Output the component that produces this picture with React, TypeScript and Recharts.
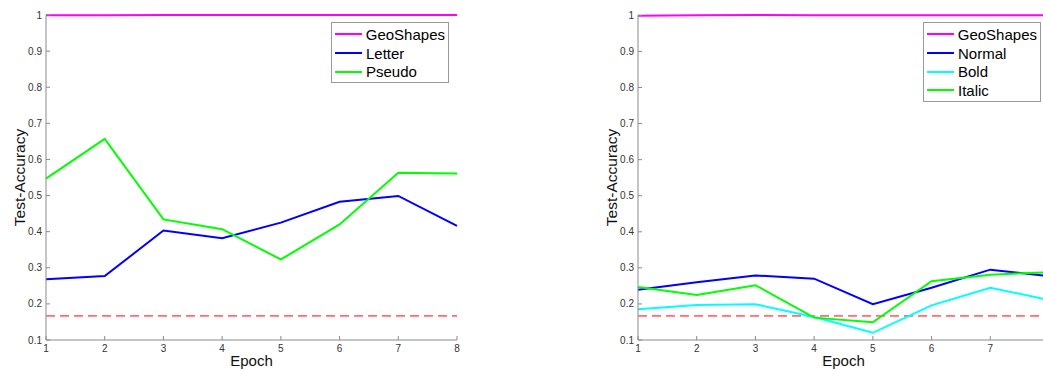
import { LineChart, Line, XAxis, YAxis, ReferenceLine, Legend } from 'recharts';

const epochs = [1, 2, 3, 4, 5, 6, 7, 8];
const yTicks = [0.1, 0.2, 0.3, 0.4, 0.5, 0.6, 0.7, 0.8, 0.9, 1];
const chance = 1 / 6;

// left panel: scripts
const leftGeo = [0.999, 0.999, 1, 1, 1, 1, 1, 1];
const leftLetter = [0.268, 0.277, 0.403, 0.382, 0.425, 0.483, 0.499, 0.416];
const leftPseudo = [0.547, 0.657, 0.434, 0.407, 0.323, 0.42, 0.563, 0.561];

// right panel: font styles (the epoch 8 label falls outside the picture)
const rightGeo = [0.999, 1, 1.001, 1, 1, 1, 1, 1];
const rightNormal = [0.239, 0.26, 0.279, 0.27, 0.199, 0.245, 0.295, 0.277];
const rightBold = [0.185, 0.197, 0.199, 0.164, 0.12, 0.196, 0.245, 0.211];
const rightItalic = [0.247, 0.225, 0.252, 0.162, 0.149, 0.263, 0.281, 0.288];
const rightTickLabels = [1, 2, 3, 4, 5, 6, 7];

const leftData = epochs.map((e, i) => ({
  epoch: e,
  GeoShapes: leftGeo[i],
  Letter: leftLetter[i],
  Pseudo: leftPseudo[i],
}));

const rightData = epochs.map((e, i) => ({
  epoch: e,
  GeoShapes: rightGeo[i],
  Normal: rightNormal[i],
  Bold: rightBold[i],
  Italic: rightItalic[i],
}));

const FONT = '"Liberation Sans", Arial, Helvetica, sans-serif';
const AXIS = '#8a8a8a';
const TICK_TEXT = { fontSize: 10, fill: '#333' };

const fmt = (v: number) => String(Math.round(v * 10) / 10);

type Series = { key: string; color: string };

const LegendBox = ({ series }: { series: Series[] }) => (
  <div
    style={{
      border: '1px solid #9a9a9a',
      background: '#fff',
      padding: '2px 3px 1px 3px',
      fontFamily: FONT,
      fontSize: 15,
      color: '#000',
      boxSizing: 'border-box',
      width: 118,
    }}
  >
    {series.map((s) => (
      <div key={s.key} style={{ display: 'flex', alignItems: 'center', height: 18.7 }}>
        <span style={{ width: 27, height: 0, borderTop: `2px solid ${s.color}`, marginRight: 4 }} />
        <span>{s.key}</span>
      </div>
    ))}
  </div>
);

const YLabel = ({ viewBox }: any) => {
  const cx = viewBox.x + 19;
  const cy = viewBox.y + viewBox.height / 2;
  return (
    <text
      x={cx}
      y={cy}
      transform={`rotate(-90, ${cx}, ${cy})`}
      textAnchor="middle"
      dominantBaseline="central"
      fontSize={15.5}
      fill="#111"
    >
      Test-Accuracy
    </text>
  );
};

const XLabel = ({ viewBox }: any) => (
  <text
    x={viewBox.x + viewBox.width / 2}
    y={viewBox.y + viewBox.height - 4}
    textAnchor="middle"
    fontSize={15}
    fill="#111"
  >
    Epoch
  </text>
);

const Panel = ({
  data,
  series,
  tickLabels,
}: {
  data: any[];
  series: Series[];
  tickLabels: number[];
}) => (
  <LineChart
    width={470}
    height={370}
    data={data}
    margin={{ top: 15, right: 13, left: 0, bottom: 0 }}
    style={{ fontFamily: FONT }}
  >
    <XAxis
      dataKey="epoch"
      type="number"
      domain={[1, 8]}
      ticks={tickLabels}
      interval={0}
      height={30}
      stroke={AXIS}
      tickSize={-4}
      tickMargin={9}
      tick={TICK_TEXT}
      label={<XLabel />}
    />
    <XAxis
      xAxisId="top"
      orientation="top"
      dataKey="epoch"
      type="number"
      domain={[1, 8]}
      ticks={epochs}
      interval={0}
      height={0}
      stroke={AXIS}
      tickSize={-4}
      tick={false}
    />
    <YAxis
      type="number"
      domain={[0.1, 1]}
      ticks={yTicks}
      interval={0}
      width={46}
      stroke={AXIS}
      tickSize={-4}
      tickMargin={8}
      tick={TICK_TEXT}
      tickFormatter={fmt}
      label={<YLabel />}
    />
    <YAxis
      yAxisId="r"
      orientation="right"
      type="number"
      domain={[0.1, 1]}
      ticks={yTicks}
      interval={0}
      width={0}
      stroke={AXIS}
      tickSize={-4}
      tick={false}
    />
    <ReferenceLine y={chance} stroke="#ff0000" strokeWidth={1} strokeDasharray="9 5" />
    {series.map((s) => (
      <Line
        key={s.key}
        type="linear"
        dataKey={s.key}
        stroke={s.color}
        strokeWidth={2}
        dot={false}
        activeDot={false}
        isAnimationActive={false}
      />
    ))}
    <Legend
      layout="vertical"
      align="center"
      verticalAlign="middle"
      content={<LegendBox series={series} />}
      wrapperStyle={{ left: 331, top: 22, width: 118 }}
    />
  </LineChart>
);

const leftSeries: Series[] = [
  { key: 'GeoShapes', color: '#ff00ff' },
  { key: 'Letter', color: '#0000ff' },
  { key: 'Pseudo', color: '#00ff00' },
];

const rightSeries: Series[] = [
  { key: 'GeoShapes', color: '#ff00ff' },
  { key: 'Normal', color: '#0000ff' },
  { key: 'Bold', color: '#00ffff' },
  { key: 'Italic', color: '#00ff00' },
];

export default function App() {
  return (
    <div
      style={{
        position: 'absolute',
        left: 0,
        top: 0,
        width: 1043,
        height: 370,
        overflow: 'hidden',
        background: '#fff',
      }}
    >
      <div style={{ position: 'absolute', left: 0, top: 0 }}>
        <Panel data={leftData} series={leftSeries} tickLabels={epochs} />
      </div>
      <div style={{ position: 'absolute', left: 592, top: 0 }}>
        <Panel data={rightData} series={rightSeries} tickLabels={rightTickLabels} />
      </div>
    </div>
  );
}
